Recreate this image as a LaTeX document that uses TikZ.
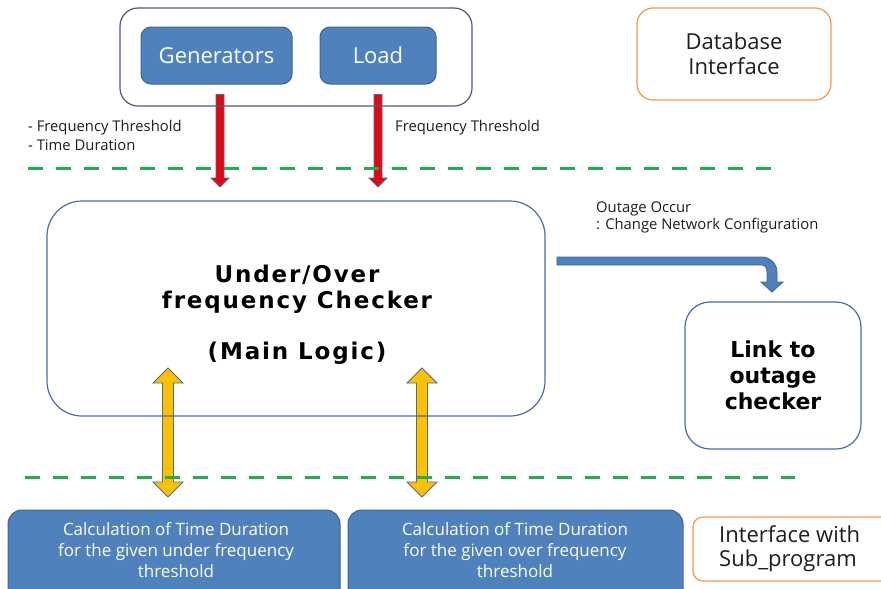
\documentclass[tikz,border=0pt]{standalone}
\usepackage{fontspec}
\setmainfont{Open Sans}
\newfontfamily\boldfam[LetterSpace=8]{DejaVu Sans}
\newfontfamily\boldfamb{DejaVu Sans}
\usetikzlibrary{backgrounds,calc}
\definecolor{bfill}{HTML}{4F81BD}
\definecolor{bline}{HTML}{3A649C}
\definecolor{slate}{HTML}{4A5C7E}
\definecolor{mainb}{HTML}{4A6DA3}
\definecolor{orng}{HTML}{F79646}
\definecolor{grn}{HTML}{1DB04E}
\definecolor{redar}{HTML}{E30613}
\definecolor{yel}{HTML}{FFC000}
\definecolor{arout}{HTML}{55698C}
\definecolor{txt}{HTML}{1E1E1E}
\tikzset{
  bluebox/.style={draw=bline, fill=bfill, line width=1pt, rounded corners=10pt, text=white, align=center, inner sep=0pt},
  outline/.style={draw=#1, line width=1.2pt, align=center, inner sep=0pt, text=txt},
  dashsep/.style={draw=grn, line width=3pt, dash pattern=on 15pt off 13pt},
  redarrow/.style={fill=redar, draw=arout, line width=0.8pt},
  yelarrow/.style={fill=yel, draw=arout, line width=0.8pt},
  bluearrow/.style={fill=bfill, draw=bline, line width=0.8pt},
  lbl/.style={anchor=west, font=\fontsize{14.8}{16}\selectfont, text=txt, inner sep=0pt},
  bigbold/.style={font=\boldfam\bfseries\fontsize{23}{26}\selectfont, text=black, align=center, inner sep=0pt},
}
\newcommand\blkdown[6]{%
 \path[#1] let \p1=#2, \p2=#3 in (\x1-#4,\y1) -- (\x1-#4,\y2+#6) -- (\x1-#5,\y2+#6) -- (\x1,\y2) -- (\x1+#5,\y2+#6) -- (\x1+#4,\y2+#6) -- (\x1+#4,\y1) -- cycle;}
\newcommand\blkboth[6]{%
 \path[#1] let \p1=#2, \p2=#3 in (\x1,\y1) -- (\x1+#5,\y1-#6) -- (\x1+#4,\y1-#6) -- (\x1+#4,\y2+#6) -- (\x1+#5,\y2+#6) -- (\x1,\y2) -- (\x1-#5,\y2+#6) -- (\x1-#4,\y2+#6) -- (\x1-#4,\y1-#6) -- (\x1-#5,\y1-#6) -- cycle;}
\begin{document}
\begin{tikzpicture}[x=1pt,y=-1pt]
\useasboundingbox (0,0) rectangle (881,589);
\clip (0,0) rectangle (881,589);

% top group
\node[outline=slate, rounded corners=18pt, minimum width=352pt, minimum height=98pt] (outer) at (296,57) {};
\node[bluebox, minimum width=151pt, minimum height=57pt, font=\fontsize{22}{26}\selectfont] (gen) at (216.5,55.5) {Generators};
\node[bluebox, minimum width=116pt, minimum height=57pt, font=\fontsize{22}{26}\selectfont] (load) at (378,55.5) {Load};

\node[outline=orng, rounded corners=16pt, minimum width=194pt, minimum height=92pt, font=\fontsize{22}{25}\selectfont] (db) at (734,54) {Database\\Interface};

% labels
\node[lbl] (l1) at (28,128) {- Frequency Threshold};
\node[lbl] (l2) at (28,145) {- Time Duration};
\node[lbl] (l3) at (395,128) {Frequency Threshold};
\node[lbl] (l4) at (596,209) {Outage Occur};
\node[lbl] (l5) at (596,226) {: Change Network Configuration};

% main
\node[outline=mainb, rounded corners=35pt, minimum width=498pt, minimum height=215pt] (main) at (296,308.5) {};
\node[bigbold] (mt) at (297,289) {Under/Over\\frequency Checker};
\node[bigbold] (ml) at (297,353) {(Main Logic)};

\node[outline=mainb, rounded corners=25pt, minimum width=176pt, minimum height=147pt, font=\boldfamb\bfseries\fontsize{22}{26}\selectfont, text=black] (link) at (773,375.5) {Link to\\outage\\checker};

% bottom
\node[bluebox, rounded corners=14pt, minimum width=332pt, minimum height=100pt] (b1) at (174,560) {};
\node[bluebox, rounded corners=14pt, minimum width=335pt, minimum height=100pt] (b2) at (515.5,560) {};
\node[text=white, align=center, inner sep=0pt, font=\fontsize{17}{21}\selectfont] (b1t) at (176,550) {Calculation of Time Duration\\for the given under frequency\\threshold};
\node[text=white, align=center, inner sep=0pt, font=\fontsize{17}{21}\selectfont] (b2t) at (515,550) {Calculation of Time Duration\\for the given over frequency\\threshold};

\node[outline=orng, rounded corners=10pt, minimum width=204pt, minimum height=64pt] (sub) at (795,549) {};
\node[anchor=west, align=left, inner sep=0pt, text=txt, font=\fontsize{22}{24}\selectfont] (subt) at (719,549) {Interface with\\Sub\_program};

% connector coordinates
\coordinate (gs) at ([xshift=3.5pt,yshift=-10pt]gen.south);
\coordinate (ge) at (gs |- 0,187);
\coordinate (ls) at ([yshift=-10pt]load.south);
\coordinate (le) at (ls |- 0,187);
\coordinate (y1a) at (168,368);
\coordinate (y1b) at (168,497);
\coordinate (y2a) at (422,368);
\coordinate (y2b) at (422,497);

\begin{pgfonlayer}{background}
\fill[white] (0,0) rectangle (881,589);
\blkdown{redarrow}{(gs)}{(ge)}{4pt}{9pt}{9pt}
\blkdown{redarrow}{(ls)}{(le)}{4pt}{9pt}{9pt}
\blkboth{yelarrow}{(y1a)}{(y1b)}{5.5pt}{15pt}{15pt}
\blkboth{yelarrow}{(y2a)}{(y2b)}{5.5pt}{15pt}{15pt}
\end{pgfonlayer}

% bent arrow main -> link
\path[bluearrow] (557,257) -- (762,257) .. controls (770,257) and (777,264) .. (777,272) -- (777,282) -- (783,282) -- (772,292) -- (761,282) -- (767,282) -- (767,272) .. controls (767,268) and (765,265) .. (762,265) -- (557,265) -- cycle;

% dashed separators
\draw[dashsep] (28,168) -- (783,168);
\draw[dashsep] (25,477) -- (795,477);
\end{tikzpicture}
\end{document}
